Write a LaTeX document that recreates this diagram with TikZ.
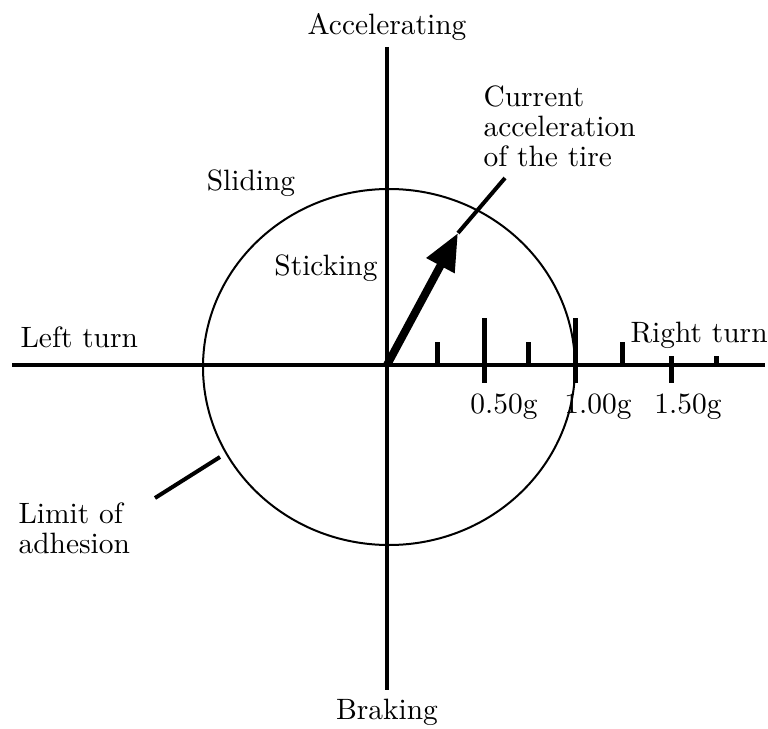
\documentclass[tikz,border=0pt]{standalone}
\usepackage{xcolor}
\usepackage{tikz}
\usetikzlibrary{arrows.meta, positioning}
\tikzset{
    axis/.style={line width=1.4pt},
    rim/.style={line width=0.7pt},
    tickmark/.style={line width=1.75pt},
    lbl/.style={inner sep=0pt, font=\fontsize{10.3}{10.6}\selectfont},
    accel/.style={line width=2.8pt, -{Triangle[length=13pt, width=10.5pt]}},
    pointer/.style={line width=1.4pt}
}

\begin{document}
\begin{tikzpicture}[x=0.35pt, y=-0.35pt]
    \useasboundingbox (0,0) rectangle (768,729);

    % Axes
    \coordinate (o) at (387,365);
    \coordinate (west) at (12,365);
    \coordinate (east) at (765,365);
    \coordinate (north) at (387,47);
    \coordinate (south) at (387,690);
    \draw[axis] (west) -- (east);
    \draw[axis] (north) -- (south);

    % Limit of adhesion
    \draw[rim] (389,367) ellipse [x radius=186, y radius=178];

    % Ticks
    \foreach \x/\top/\bot in {437/342/365, 484/318/383, 528/342/365, 575/318/383,
                               622/342/365, 671/356/383, 716/356/365}
        \draw[tickmark] (\x,\top) -- (\x,\bot);

    % Tick labels
    \node[lbl] (g050) at (504,407) {0.50g};
    \node[lbl] (g100) at (598,407) {1.00g};
    \node[lbl] (g150) at (688,407) {1.50g};

    % Axis labels
    \node[lbl] (acc) at (387,27) {Accelerating};
    \node[lbl] (brake) at (387,712) {Braking};
    \node[lbl, anchor=west] (leftturn) at (20,337) {Left turn};
    \node[lbl, anchor=west] (rightturn) at (630,335) {Right turn};

    % Regions
    \node[lbl] (slide) at (251,183) {Sliding};
    \node[lbl] (stick) at (326,268) {Sticking};

    % Acceleration vector
    \coordinate (tip) at (458,233);
    \coordinate (cur-end) at (505,178);
    \draw[accel] (o) -- (tip);
    \draw[pointer] (tip) -- (cur-end);
    \node[lbl, anchor=north west, align=left] (cur) at (483,85)
        {Current\\acceleration\\of the tire};

    % Limit label
    \coordinate (lim-a) at (220,457);
    \coordinate (lim-b) at (155,498);
    \draw[pointer] (lim-a) -- (lim-b);
    \node[lbl, anchor=north west, align=left] (lim) at (18,502) {Limit of\\adhesion};
\end{tikzpicture}
\end{document}
